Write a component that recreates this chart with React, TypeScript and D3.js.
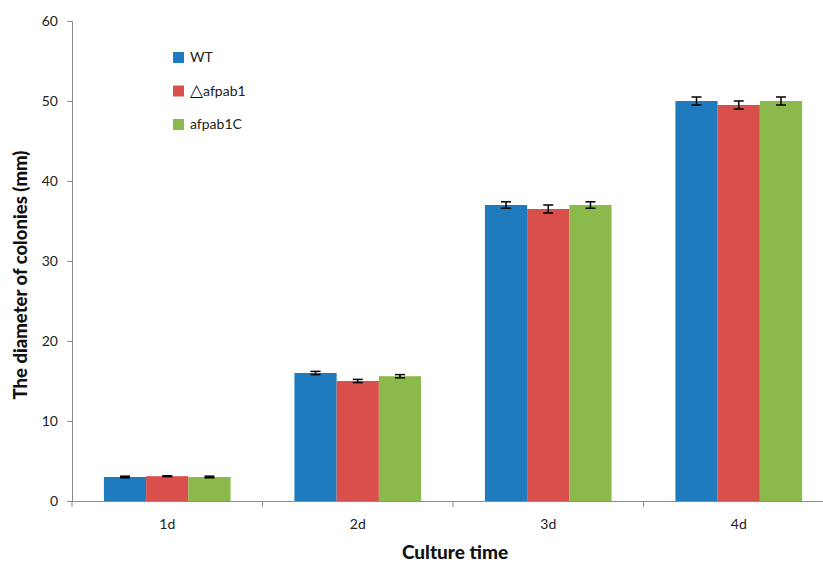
import React, { useEffect, useRef } from 'react';
import * as d3 from 'd3';

// chart data
const categories = ['1d', '2d', '3d', '4d'];
const seriesNames = ['WT', '\u25B3afpab1', 'afpab1C'];
const wtValues = [3.0, 16.0, 37.0, 50.0];
const mutantValues = [3.1, 15.0, 36.5, 49.5];
const complementValues = [3.0, 15.6, 37.0, 50.0];
const wtErrors = [0.1, 0.2, 0.4, 0.5];
const mutantErrors = [0.05, 0.2, 0.5, 0.5];
const complementErrors = [0.1, 0.2, 0.4, 0.5];
const yTicks = [0, 10, 20, 30, 40, 50, 60];

const colors = ['#1f7bbe', '#d94f4b', '#8cb94b'];

const App: React.FC = () => {
  const ref = useRef<SVGSVGElement>(null);

  useEffect(() => {
    if (!ref.current) return;
    const svg = d3.select(ref.current);
    svg.selectAll('*').remove();

    const font = 'Lato, "Open Sans", sans-serif';
    const left = 72;
    const right = 834;
    const top = 21;
    const bottom = 501;

    const values = [wtValues, mutantValues, complementValues];
    const errors = [wtErrors, mutantErrors, complementErrors];

    const x0 = d3.scaleBand<string>().domain(categories).range([left, right]);
    const step = x0.step();
    const gap = step * 0.335;
    const x1 = d3.scaleBand<string>().domain(seriesNames).range([gap / 2, step - gap / 2]);
    const y = d3.scaleLinear().domain([0, 60]).range([bottom, top]);

    // bars
    seriesNames.forEach((s, si) => {
      const g = svg.append('g');
      g.selectAll('rect')
        .data(categories)
        .enter()
        .append('rect')
        .attr('x', (c: string) => (x0(c) as number) + (x1(s) as number))
        .attr('width', x1.bandwidth())
        .attr('y', (_: string, i: number) => y(values[si][i]))
        .attr('height', (_: string, i: number) => y(0) - y(values[si][i]))
        .attr('fill', colors[si]);

      // error bars
      categories.forEach((c, i) => {
        const cx = (x0(c) as number) + (x1(s) as number) + x1.bandwidth() / 2;
        const hi = y(values[si][i] + errors[si][i]);
        const lo = y(values[si][i] - errors[si][i]);
        g.append('line')
          .attr('x1', cx).attr('x2', cx)
          .attr('y1', hi).attr('y2', lo)
          .attr('stroke', '#000').attr('stroke-width', 1.5);
        [hi, lo].forEach((yy) => {
          g.append('line')
            .attr('x1', cx - 5).attr('x2', cx + 5)
            .attr('y1', yy).attr('y2', yy)
            .attr('stroke', '#000').attr('stroke-width', 1.5);
        });
      });
    });

    // y axis
    const yAxis = svg.append('g')
      .attr('transform', `translate(${left},0)`)
      .call(d3.axisLeft(y).tickValues(yTicks).tickSize(5).tickPadding(9).tickFormat((d: any) => `${d}`));
    yAxis.select('.domain').attr('stroke', '#8c8c8c');
    yAxis.selectAll('.tick line').attr('stroke', '#8c8c8c');
    yAxis.selectAll('text')
      .attr('font-family', font)
      .attr('font-size', '14px')
      .attr('fill', '#222');

    // x axis
    const xAxisG = svg.append('g').attr('transform', `translate(0,${bottom})`);
    xAxisG.append('line')
      .attr('x1', left).attr('x2', right)
      .attr('y1', 0.5).attr('y2', 0.5)
      .attr('stroke', '#8c8c8c');
    const boundaries = categories.map((c) => (x0(c) as number) + step);
    xAxisG.selectAll('.xtick')
      .data([left, ...boundaries])
      .enter()
      .append('line')
      .attr('x1', (d: number) => d).attr('x2', (d: number) => d)
      .attr('y1', 0).attr('y2', 6)
      .attr('stroke', '#8c8c8c');
    xAxisG.selectAll('.xlabel')
      .data(categories)
      .enter()
      .append('text')
      .attr('x', (c: string) => (x0(c) as number) + step / 2)
      .attr('y', 28)
      .attr('text-anchor', 'middle')
      .attr('font-family', font)
      .attr('font-size', '14px')
      .attr('fill', '#222')
      .text((c: string) => c);

    // axis titles
    svg.append('text')
      .attr('x', 455)
      .attr('y', 559)
      .attr('text-anchor', 'middle')
      .attr('font-family', font)
      .attr('font-weight', '900')
      .attr('font-size', '19px')
      .attr('fill', '#111')
      .text('Culture time');

    svg.append('text')
      .attr('transform', `translate(27,275) rotate(-90)`)
      .attr('text-anchor', 'middle')
      .attr('font-family', font)
      .attr('font-weight', '900')
      .attr('font-size', '18.5px')
      .attr('fill', '#111')
      .text('The diameter of colonies (mm)');

    // legend
    const legend = svg.append('g').attr('transform', 'translate(173,52)');
    seriesNames.forEach((s, i) => {
      legend.append('rect')
        .attr('x', 0).attr('y', i * 33.5)
        .attr('width', 11).attr('height', 11)
        .attr('fill', colors[i]);
      const t = legend.append('text')
        .attr('x', 17).attr('y', i * 33.5 + 10)
        .attr('font-family', font)
        .attr('font-size', '14px')
        .attr('fill', '#222');
      if (s.startsWith('\u25B3')) {
        t.append('tspan')
          .attr('font-family', '"DejaVu Sans", sans-serif')
          .attr('font-size', '17px')
          .attr('fill', '#111')
          .text('\u25B3');
        t.append('tspan').text(s.slice(1));
      } else {
        t.text(s);
      }
    });
  }, []);

  return (
    <svg
      ref={ref}
      width={823}
      height={563}
      style={{ position: 'absolute', left: 0, top: 0, background: '#fff' }}
    />
  );
};

export default App;
